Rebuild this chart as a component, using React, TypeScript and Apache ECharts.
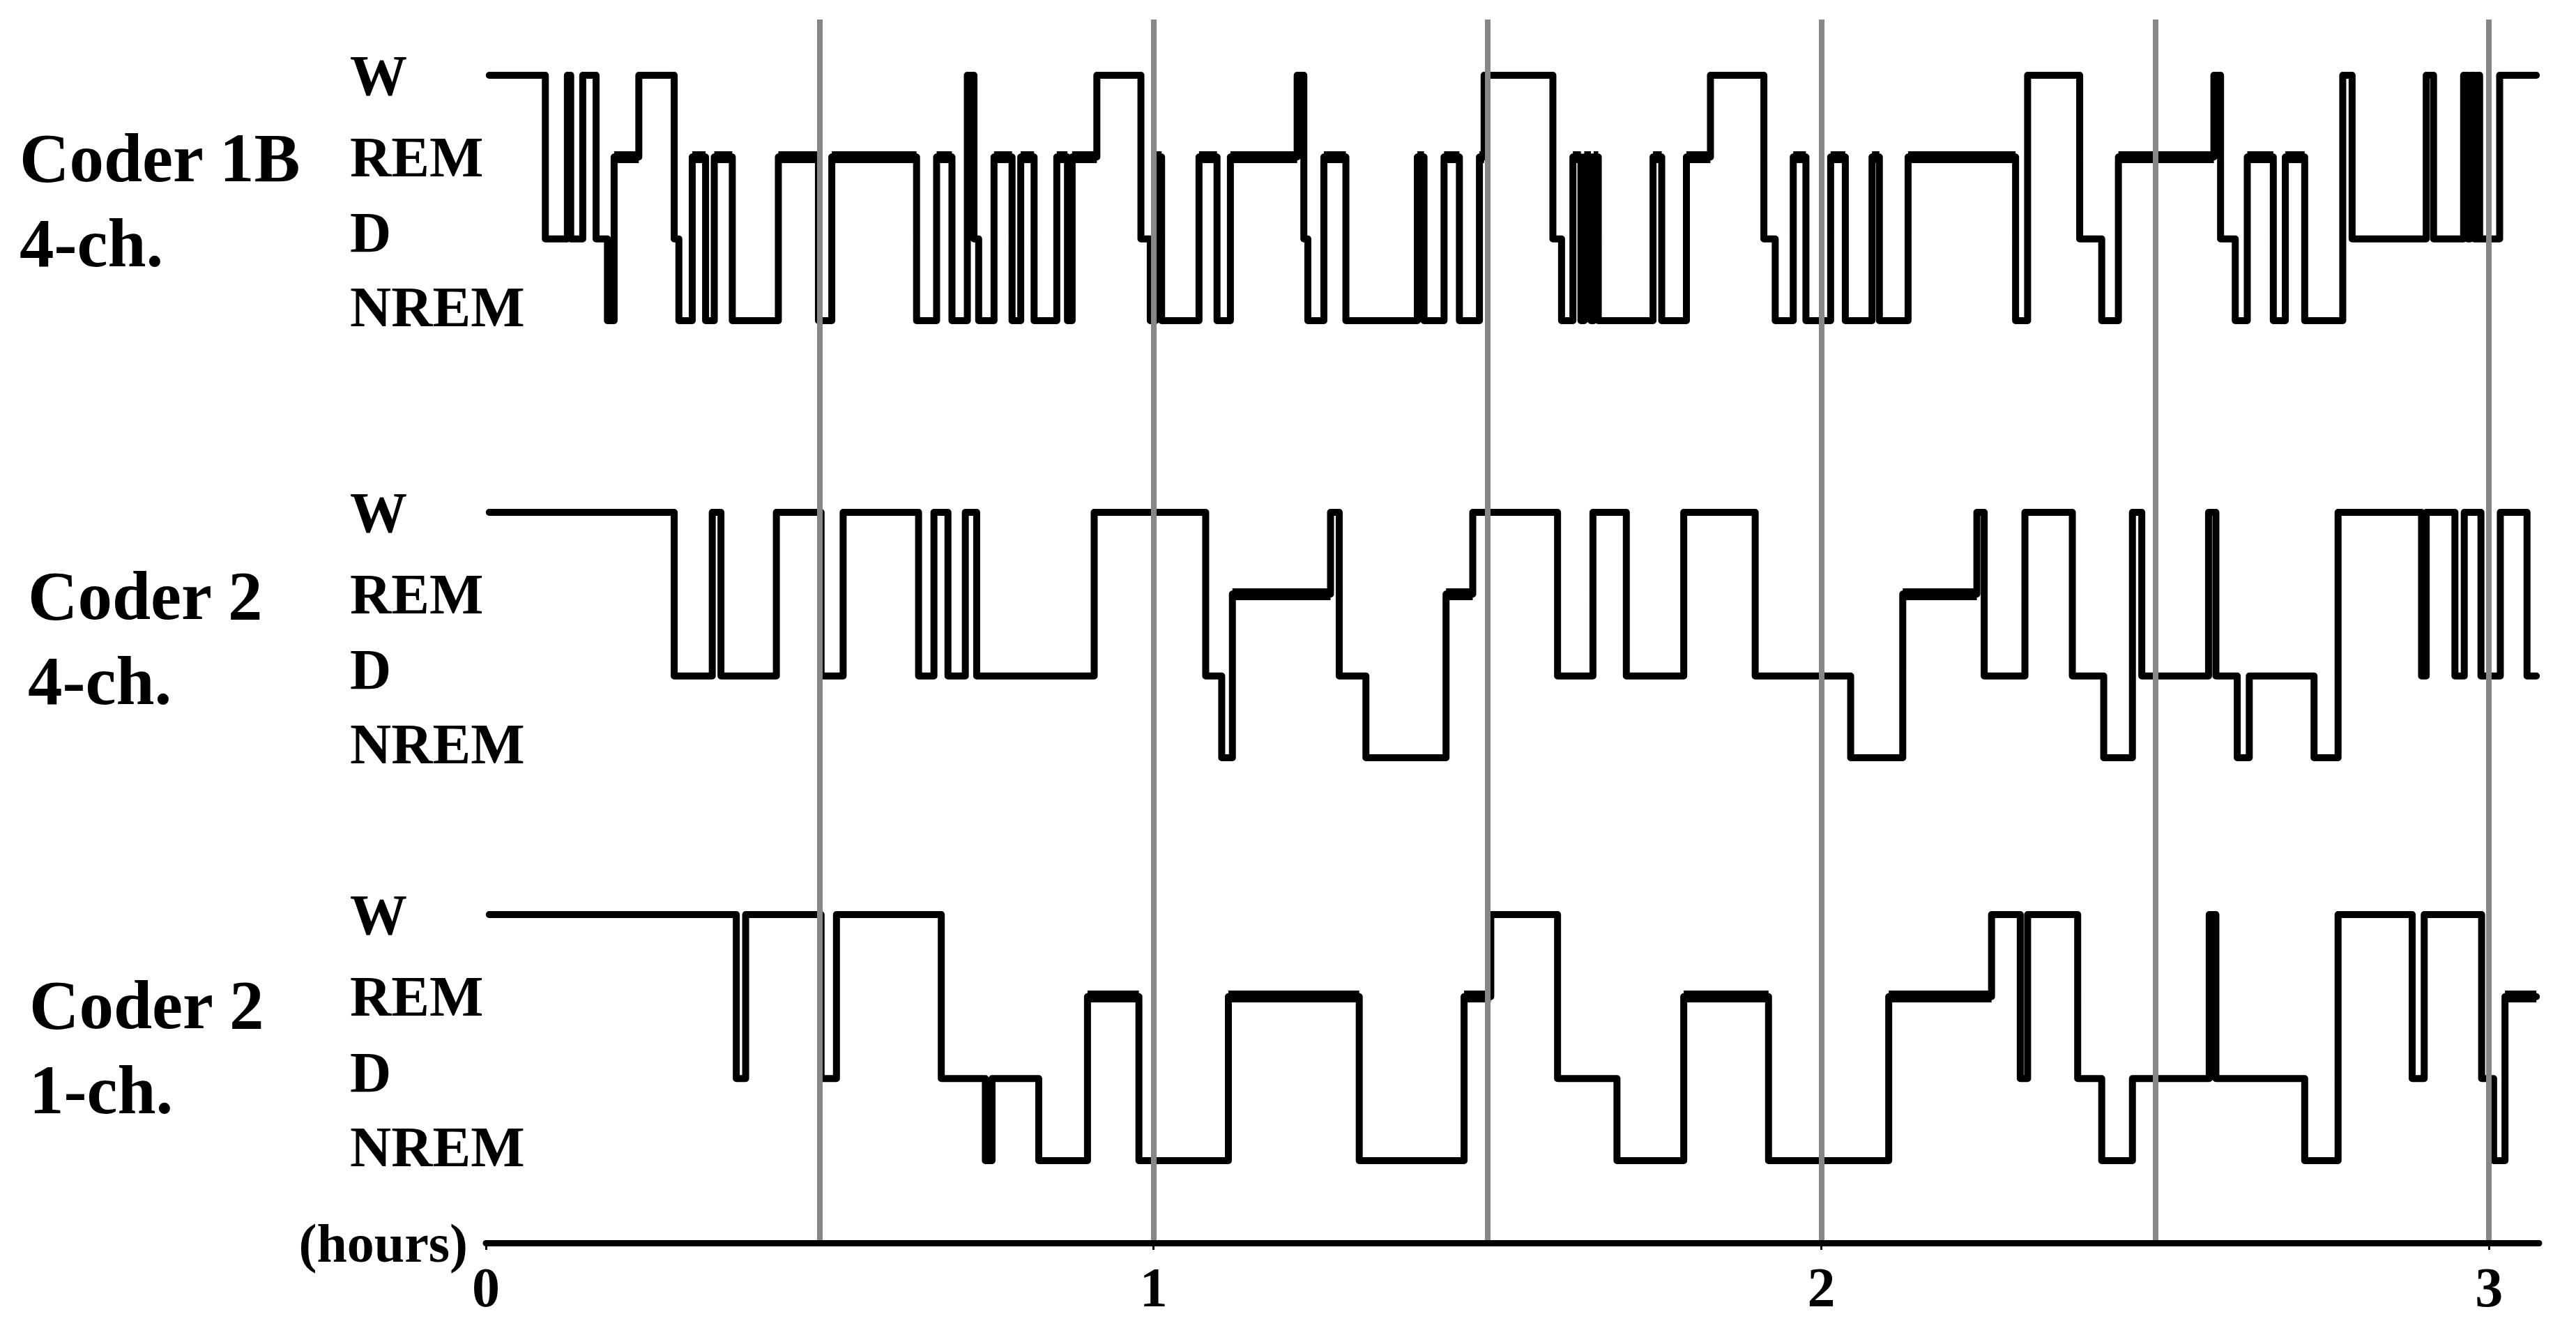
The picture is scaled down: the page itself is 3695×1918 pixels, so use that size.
import React, { useEffect, useRef } from 'react';
import * as echarts from 'echarts';

// stage levels: NREM=0, D=1, REM=2, W=3
const stageLabels = ['NREM', 'D', 'REM', 'W'];
const hourTicks = [0, 1, 2, 3];
const grayLineHours = [0.5, 1, 1.5, 2, 2.5, 3];
const endHour = 3.071;
const axisMaxHour = 3.075;
const coderNames = ['Coder 1B\n4-ch.', 'Coder 2\n4-ch.', 'Coder 2\n1-ch.'];

// [hour at which the stage begins, stage level]
const coder1B4ch: [number, number][] = [
  [0.005, 3], [0.089, 1], [0.122, 3], [0.127, 1], [0.145, 3], [0.165, 1], [0.182, 0], [0.192, 2],
  [0.229, 3], [0.282, 1], [0.289, 0], [0.309, 2], [0.329, 0], [0.342, 2], [0.369, 0], [0.438, 2],
  [0.498, 0], [0.518, 2], [0.645, 0], [0.675, 2], [0.698, 0], [0.721, 3], [0.731, 1], [0.738, 0],
  [0.761, 2], [0.788, 0], [0.801, 2], [0.821, 0], [0.855, 2], [0.871, 0], [0.878, 2], [0.915, 3],
  [0.981, 1], [0.995, 0], [1.003, 2], [1.012, 0], [1.068, 2], [1.095, 0], [1.115, 2], [1.215, 3],
  [1.225, 1], [1.231, 0], [1.255, 2], [1.288, 0], [1.395, 2], [1.405, 0], [1.435, 2], [1.458, 0],
  [1.488, 2], [1.495, 3], [1.598, 1], [1.611, 0], [1.628, 2], [1.640, 0], [1.645, 2], [1.655, 0],
  [1.659, 2], [1.666, 0], [1.748, 2], [1.761, 0], [1.798, 2], [1.834, 3], [1.914, 1], [1.931, 0],
  [1.958, 2], [1.977, 0], [2.014, 2], [2.036, 0], [2.076, 2], [2.087, 0], [2.130, 2], [2.291, 0],
  [2.309, 3], [2.387, 1], [2.420, 0], [2.445, 2], [2.588, 3], [2.598, 1], [2.620, 0], [2.638, 2],
  [2.677, 0], [2.695, 2], [2.724, 0], [2.781, 3], [2.795, 1], [2.906, 3], [2.917, 1], [2.962, 3],
  [2.968, 1], [2.972, 3], [2.978, 1], [2.982, 3], [2.986, 1], [3.016, 3],
];

const coder2_4ch: [number, number][] = [
  [0.005, 3], [0.282, 1], [0.339, 3], [0.352, 1], [0.435, 3], [0.502, 1], [0.535, 3], [0.648, 1],
  [0.671, 3], [0.692, 1], [0.718, 3], [0.735, 1], [0.911, 3], [1.078, 1], [1.102, 0], [1.118, 2],
  [1.265, 3], [1.278, 1], [1.318, 0], [1.438, 2], [1.478, 3], [1.605, 1], [1.658, 3], [1.708, 1],
  [1.794, 3], [1.901, 1], [2.044, 0], [2.122, 2], [2.233, 3], [2.244, 1], [2.305, 3], [2.376, 1],
  [2.423, 0], [2.466, 3], [2.480, 1], [2.580, 3], [2.591, 1], [2.623, 0], [2.641, 1], [2.738, 0],
  [2.774, 3], [2.899, 1], [2.906, 3], [2.949, 1], [2.963, 3], [2.988, 1], [3.017, 3], [3.057, 1],
];

const coder2_1ch: [number, number][] = [
  [0.005, 3], [0.375, 1], [0.389, 3], [0.502, 1], [0.525, 3], [0.682, 1], [0.748, 0], [0.758, 1],
  [0.828, 0], [0.901, 2], [0.978, 0], [1.112, 2], [1.308, 0], [1.465, 2], [1.505, 3], [1.605, 1],
  [1.694, 0], [1.794, 2], [1.921, 0], [2.101, 2], [2.255, 3], [2.298, 1], [2.309, 3], [2.384, 1],
  [2.420, 0], [2.466, 1], [2.581, 3], [2.591, 1], [2.724, 0], [2.774, 3], [2.885, 1], [2.903, 3],
  [2.989, 1], [3.007, 0], [3.024, 2],
];

const panels = [coder1B4ch, coder2_4ch, coder2_1ch];

const FONT = '"Liberation Serif", "Times New Roman", serif';
const GRID_LEFT = 697;
const GRID_RIGHT = 53;
const panelTops = [108, 735, 1312];
const panelHeights = [352, 352, 353];
const titleLefts = [28, 40, 42];
const titleTops = [165, 793, 1380];

function withEnd(p: [number, number][]) {
  return [...p, [endHour, p[p.length - 1][1]]];
}

function remSegments(p: [number, number][]) {
  const full = withEnd(p);
  const segs: { coords: number[][] }[] = [];
  for (let i = 0; i < full.length - 1; i++) {
    if (full[i][1] === 2) segs.push({ coords: [[full[i][0], 2], [full[i + 1][0], 2]] });
  }
  return segs;
}

const labelFont = { fontFamily: FONT, fontWeight: 'bold' as const, fontSize: 82, color: '#000' };

export default function App() {
  const ref = useRef<HTMLDivElement>(null);
  useEffect(() => {
    if (!ref.current) return;
    const chart = echarts.init(ref.current, undefined, { renderer: 'svg' });

    const grids: any[] = panels.map((_, i) => ({
      left: GRID_LEFT, right: GRID_RIGHT, top: panelTops[i], height: panelHeights[i],
    }));
    grids.push({ left: GRID_LEFT, right: GRID_RIGHT, top: 28, bottom: 135 });

    const xAxes: any[] = panels.map((_, i) => ({
      gridIndex: i, type: 'value', min: 0, max: axisMaxHour, show: false,
    }));
    xAxes.push({
      gridIndex: 3, type: 'value', min: 0, max: axisMaxHour, interval: 1, z: 20,
      axisLine: { show: true, lineStyle: { color: '#000', width: 9 } },
      axisTick: { show: true, length: 10, customValues: hourTicks, lineStyle: { color: '#000', width: 3 } },
      axisLabel: {
        show: true, customValues: hourTicks, margin: 24,
        fontFamily: FONT, fontWeight: 'bold', fontSize: 80, color: '#000',
      },
      splitLine: { show: false },
      name: '(hours)', nameLocation: 'start', nameGap: 14,
      nameTextStyle: { fontFamily: FONT, fontWeight: 'bold', fontSize: 78, color: '#000', padding: [0, 0, 14, 0] },
    });

    const yAxes: any[] = panels.map((_, i) => ({
      gridIndex: i, type: 'value', min: 0, max: 3, interval: 1,
      axisLine: { show: false }, axisTick: { show: false }, splitLine: { show: false },
      axisLabel: {
        show: true, align: 'left', margin: 195, ...labelFont,
        formatter: (v: number) => `{s${v}|${stageLabels[v]}}`,
        rich: {
          s0: { ...labelFont, padding: [0, 0, 40, 0] },
          s1: { ...labelFont, padding: [0, 0, 18, 0] },
          s2: { ...labelFont },
          s3: { ...labelFont },
        },
      },
    }));
    yAxes.push({ gridIndex: 3, type: 'value', min: 0, max: 1, show: false });

    const series: any[] = [];
    panels.forEach((p, i) => {
      series.push({
        type: 'line', xAxisIndex: i, yAxisIndex: i, step: 'end', data: withEnd(p),
        showSymbol: false, symbol: 'none', clip: false, silent: true, z: 3,
        lineStyle: { color: '#000', width: 10, cap: 'round', join: 'round' },
      });
      series.push({
        type: 'lines', coordinateSystem: 'cartesian2d', xAxisIndex: i, yAxisIndex: i,
        data: remSegments(p), silent: true, z: 3,
        lineStyle: { color: '#000', width: 17, opacity: 1 },
      });
    });
    series.push({
      type: 'line', xAxisIndex: 3, yAxisIndex: 3, data: [[0, 0]], showSymbol: false, symbol: 'none',
      lineStyle: { width: 0, opacity: 0 }, silent: true, z: 10,
      markLine: {
        silent: true, symbol: ['none', 'none'], label: { show: false },
        lineStyle: { color: '#878787', width: 8, type: 'solid' },
        emphasis: { disabled: true },
        data: grayLineHours.map((h) => ({ xAxis: h })),
      },
    });

    chart.setOption({
      animation: false,
      backgroundColor: '#ffffff',
      title: coderNames.map((t, i) => ({
        text: t, left: titleLefts[i], top: titleTops[i], padding: 0,
        textStyle: { fontFamily: FONT, fontWeight: 'bold', fontSize: 99, color: '#000', lineHeight: 122 },
      })),
      grid: grids,
      xAxis: xAxes,
      yAxis: yAxes,
      series,
    });
    return () => chart.dispose();
  }, []);
  return (
    <div
      ref={ref}
      style={{ position: 'fixed', left: 0, top: 0, width: 3695, height: 1918, background: '#fff' }}
    />
  );
}
